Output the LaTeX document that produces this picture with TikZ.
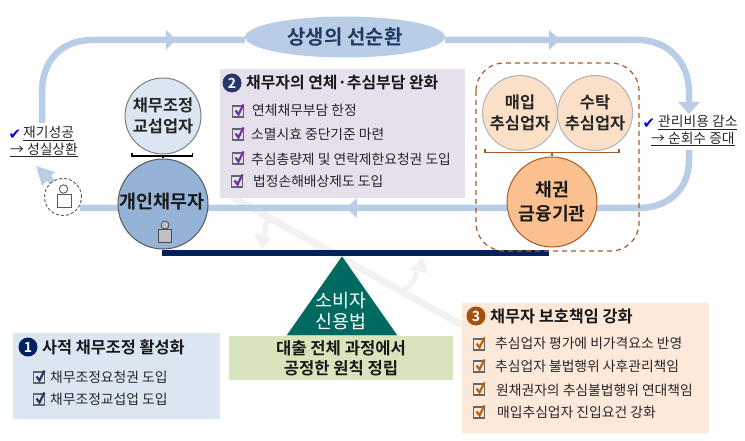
\documentclass[tikz,border=0pt]{standalone}
\usepackage{fontspec}
\setmainfont{Noto Sans CJK KR}
\newfontfamily\krbold{Noto Sans CJK KR Bold}
\newfontfamily\djv{DejaVu Sans}
\usetikzlibrary{arrows.meta,shapes.geometric}
\definecolor{flow}{HTML}{B9CEE6}
\definecolor{paleblue}{HTML}{DCE6F2}
\definecolor{midblue}{HTML}{95B3D7}
\definecolor{palepurple}{HTML}{E6E0EC}
\definecolor{paleorange}{HTML}{FDE9D9}
\definecolor{peach}{HTML}{FBE0C8}
\definecolor{orangefill}{HTML}{FAC090}
\definecolor{brownline}{HTML}{A65A28}
\definecolor{navy}{HTML}{002060}
\definecolor{teal}{HTML}{006A60}
\definecolor{palegreen}{HTML}{D7E4BC}
\definecolor{chkpurple}{HTML}{7030A0}
\definecolor{chkorange}{HTML}{C05F10}
\definecolor{chknavy}{HTML}{1F3864}
\definecolor{txt}{HTML}{262626}
\tikzset{
  flowline/.style={draw=flow,line width=6.5pt},
  flowhead/.style={fill=flow,draw=none},
  shadowline/.style={draw=black!5,line width=7pt},
  shadowhead/.style={fill=black!5,draw=none},
  ballgray/.style={circle,draw=#1,line width=1pt,minimum size=76pt,inner sep=0pt,align=center,text=txt},
  panel/.style={draw=none,fill=#1},
  headtxt/.style={font=\krbold\fontsize{16.3}{18}\selectfont,anchor=west,inner sep=0pt,text=black!90},
  itemtxt/.style={font=\fontsize{13.8}{15}\selectfont,anchor=west,inner sep=0pt,text=txt},
  ballbold/.style={font=\krbold\fontsize{16.4}{21}\selectfont},
  numdot/.style={circle,fill=#1,text=white,inner sep=0pt,minimum size=19pt,font=\krbold\fontsize{14}{14}\selectfont},
  sidetxt/.style={font=\fontsize{13.8}{16.5}\selectfont,align=left,inner sep=0pt,text=txt},
}
\newcommand{\chkmark}[3]{%
  \draw[black!60,line width=1.2pt] (#1-5.5,#2-5) rectangle (#1+5.5,#2+6);
  \draw[#3,line width=2.2pt] (#1-2.5,#2-0.5) -- (#1+0.5,#2+3.5) -- (#1+5.5,#2-6.5);
}
\begin{document}
\begin{tikzpicture}[x=1pt,y=-1pt]
\useasboundingbox (0,0) rectangle (745,441);
% balance shadow
\coordinate (shA) at (232,197);
\coordinate (shB) at (462,325);
\draw[shadowline] (shA) -- (shB);
\coordinate (shL) at (271,216);
\coordinate (shLe) at (264,235);
\coordinate (shR) at (403,290);
\coordinate (shRe) at (417,272);
\draw[shadowline,line width=5pt] (shL) .. controls (266,222) .. (shLe);
\fill[shadowhead] (253,233) -- (262,249) -- (271,238) -- cycle;
\draw[shadowline,line width=5pt] (shR) .. controls (412,285) .. (shRe);
\fill[shadowhead] (423,257) -- (410,270) -- (428,273) -- cycle;
% flow
\node[ellipse,fill=flow,minimum width=200pt,minimum height=41pt,inner sep=0pt,font=\krbold\fontsize{20}{24}\selectfont,text=chknavy] (top) at (345,37) {상생의 선순환};
\coordinate (fL) at (42,123);
\coordinate (fR) at (689,102);
\coordinate (fR2) at (689,150);
\coordinate (fB) at (80,208);
\draw[flowline] (fL) -- (42,92) .. controls (42,60) and (62,40) .. (92,40) -- (top.west |- 0,40);
\draw[flowline] (top.east |- 0,40) -- (638,40) .. controls (668,40) and (689,62) .. (689,92) -- (fR);
\draw[flowline] (fR2) -- (689,160) .. controls (689,190) and (668,208) .. (638,208) -- (fB);
\fill[flowhead] (176,40) -- (166,30) -- (166,50) -- cycle;
\fill[flowhead] (560,40) -- (549,30) -- (549,50) -- cycle;
\fill[flowhead] (689,114) -- (678,102) -- (700,102) -- cycle;
\fill[flowhead] (346,208) -- (357,198) -- (357,218) -- cycle;
% person on the left
\coordinate (aStart) at (53,183);
\coordinate (aEnd) at (44,173);
\draw[flowline] (aStart) -- (aEnd);
\fill[flowhead] (36,166) -- (55,172) -- (42,186) -- cycle;
\node[circle,draw=black!65,densely dashed,fill=white,line width=0.9pt,minimum size=37pt,inner sep=0pt] (pers) at (63,197) {};
\draw[black!65,line width=0.9pt,fill=white] (57,194) rectangle (71,207);
\draw[black!65,line width=0.9pt,fill=white] (63.5,189) circle (4.2);
% balance bar
\fill[navy] (162,250) rectangle (549,256);
% left side panels
\fill[panel=palepurple] (220,69) rectangle (465,198);
\node[ballgray=black!50,fill=paleblue,ballbold] (nego) at (163,116) {채무조정\\교섭업자};
\node[ballgray=black!65,fill=midblue,minimum size=90pt] (debtor) at (163,204) {};
\node[font=\krbold\fontsize{18.5}{22}\selectfont,text=black!90,inner sep=0pt] (debtorlab) at (162,202) {개인채무자};
\draw[black,line width=1.5pt] (132,153) -- (132,156) -- (192.5,156) -- (192.5,153);
\draw[black,line width=1.5pt] (nego.south |- 0,156) -- (debtor.north);
\draw[black!70,fill=black!25,line width=0.8pt] (165,225) circle (4);
\draw[black!70,fill=black!25,line width=0.8pt] (158.5,229.5) rectangle (171,242);
% dashed group
\draw[brownline,dashed,line width=1.2pt,dash pattern=on 5pt off 4pt,rounded corners=28pt] (476,63) rectangle (639,251);
\node[ballgray=black!30,fill=peach,ballbold,minimum size=75pt] (buy) at (520,113) {매입\\추심업자};
\node[ballgray=black!30,fill=peach,ballbold,minimum size=75pt] (trust) at (595,113) {수탁\\추심업자};
\node[ballgray=brownline,fill=orangefill,minimum size=90pt,font=\krbold\fontsize{18.2}{24}\selectfont,text=black!90] (bank) at (552,202) {채권\\금융기관};
\draw[brownline,line width=1.5pt] (485,149) -- (485,152.5) -- (619,152.5) -- (619,149);
\draw[brownline,line width=1.5pt] (552,152.5) -- (bank.north);
% side labels
\node[text=blue,font=\djv\fontsize{15}{15}\selectfont,inner sep=0pt] (tickL) at (15,135) {✔};
\node[sidetxt,anchor=north west] (lblL) at (10,126) {\hspace*{13pt}\underline{재기성공}\\\underline{→ 성실상환}};
\node[text=blue,font=\djv\fontsize{15}{15}\selectfont,inner sep=0pt] (tickR) at (649,124) {✔};
\node[sidetxt,anchor=north west] (lblR) at (651,115) {\hspace*{7pt}\underline{관리비용 감소}\\\underline{→ 순회수 증대}};
% pivot
\node[isosceles triangle,isosceles triangle apex angle=70,shape border rotate=90,fill=teal,draw=none,inner sep=0pt,minimum height=79pt,anchor=apex] (tri) at (342,256) {};
\node[text=white,font=\fontsize{18.4}{21}\selectfont,align=center,inner sep=0pt] (trilab) at (341,311) {소비자\\신용법};
\fill[panel=palegreen] (229,336) rectangle (453,380);
\node[font=\krbold\fontsize{16.6}{20}\selectfont,align=center,text=black!90,inner sep=0pt] (fair) at (341,358) {대출 전체 과정에서\\공정한 원칙 정립};
% panel 2
\node[numdot=chknavy!90!chkpurple] (n2) at (232,83) {2};
\node[headtxt,font=\krbold\fontsize{15.9}{18}\selectfont] (h2) at (246,83) {채무자의 연체·추심부담 완화};
\chkmark{238}{111}{chkpurple}
\node[itemtxt] (i21) at (252,110) {연체채무부담 한정};
\chkmark{238}{134}{chkpurple}
\node[itemtxt] (i22) at (251,134) {소멸시효 중단기준 마련};
\chkmark{238}{158}{chkpurple}
\node[itemtxt] (i23) at (251,159) {추심총량제 및 연락제한요청권 도입};
\chkmark{237}{181}{chkpurple}
\node[itemtxt] (i24) at (253,181) {법정손해배상제도 도입};
% panel 1
\fill[panel=paleblue] (13,333) rectangle (220,419);
\node[numdot=navy] (n1) at (28,347) {1};
\node[headtxt] (h1) at (42,347) {사적 채무조정 활성화};
\chkmark{39}{377}{chknavy}
\node[itemtxt] (i11) at (50,377) {채무조정요청권 도입};
\chkmark{39}{399}{chknavy}
\node[itemtxt] (i12) at (50,399) {채무조정교섭업 도입};
% panel 3
\fill[panel=paleorange] (462,303) rectangle (709,433);
\node[numdot=chkorange!85!black] (n3) at (476,316) {3};
\node[headtxt] (h3) at (490,316) {채무자 보호책임 강화};
\chkmark{479}{344}{chkorange}
\node[itemtxt] (i31) at (495,343) {추심업자 평가에 비가격요소 반영};
\chkmark{479}{366}{chkorange}
\node[itemtxt] (i32) at (495,366) {추심업자 불법행위 사후관리책임};
\chkmark{479}{389}{chkorange}
\node[itemtxt] (i33) at (496,390) {원채권자의 추심불법행위 연대책임};
\chkmark{479}{412}{chkorange}
\node[itemtxt] (i34) at (497,412) {매입추심업자 진입요건 강화};
\end{tikzpicture}
\end{document}
